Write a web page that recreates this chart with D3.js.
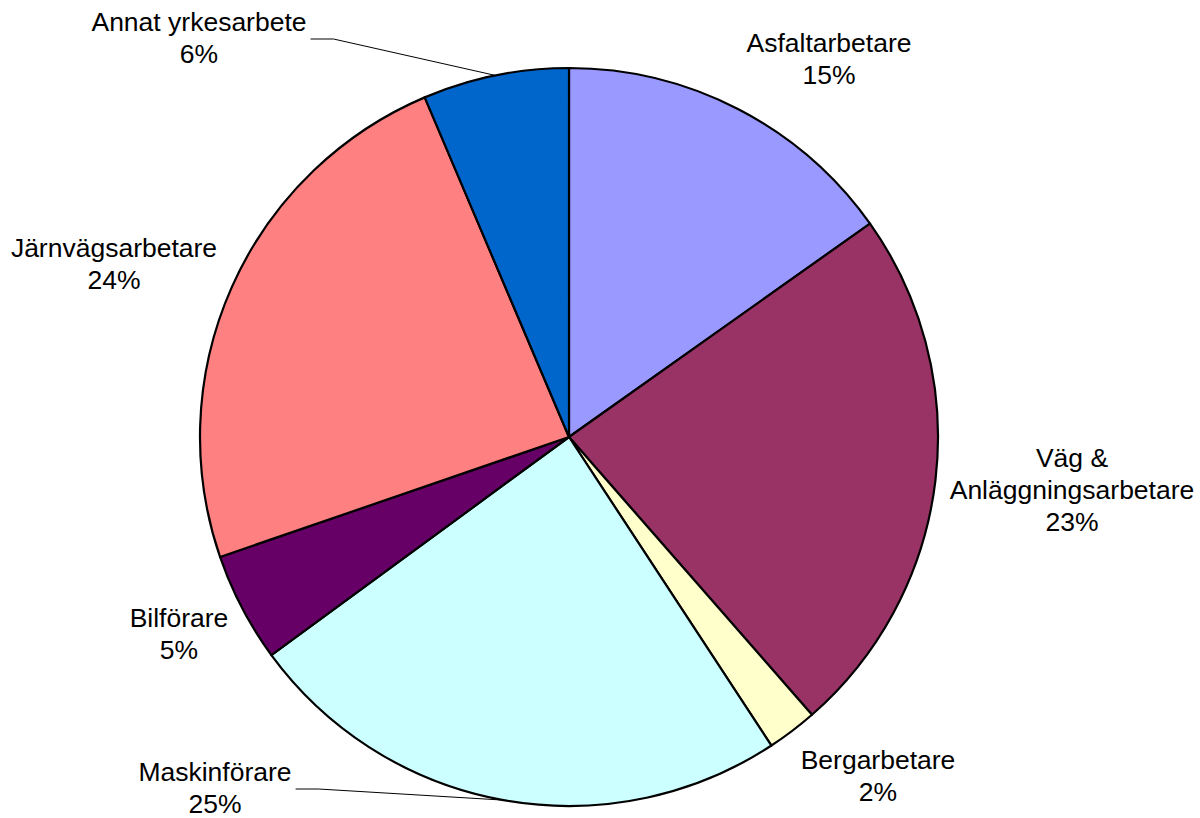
<!DOCTYPE html>
<html>
<head>
<meta charset="utf-8">
<script src="https://cdn.jsdelivr.net/npm/d3@7"></script>
<style>
  body { margin: 0; background: #fff; }
  svg text { font-family: "Liberation Sans", Arial, sans-serif; fill: #000; }
</style>
</head>
<body>
<div id="chart"></div>
<script>
// slices, clockwise from 12 o'clock
var categories = ["Asfaltarbetare", "Väg & Anläggningsarbetare", "Bergarbetare", "Maskinförare", "Bilförare", "Järnvägsarbetare", "Annat yrkesarbete"];
var shares = [15.2, 23.4, 2.2, 24.2, 4.8, 23.9, 6.4];
var pctLabels = ["15%", "23%", "2%", "25%", "5%", "24%", "6%"];
var colors = ["#9999FF", "#993366", "#FFFFCC", "#CCFFFF", "#660066", "#FF8080", "#0066CC"];

// label text lines and where each label block sits (first baseline)
var labelLines = [["Asfaltarbetare"], ["Väg &", "Anläggningsarbetare"], ["Bergarbetare"], ["Maskinförare"], ["Bilförare"], ["Järnvägsarbetare"], ["Annat yrkesarbete"]];
var labelPos = [[829, 52], [1072, 467], [878, 769], [215, 781], [179, 627], [114, 257], [199, 31]];
var hasLeader = [false, false, false, true, false, false, true];

var width = 1200, height = 818;
var cx = 569, cy = 437, radius = 369;
var lineH = 32;

var svg = d3.select("#chart").append("svg")
    .attr("width", width)
    .attr("height", height);

var pie = d3.pie().sort(null).value(function(d) { return d; });
var arcs = pie(shares);
var arc = d3.arc().innerRadius(0).outerRadius(radius);

var g = svg.append("g")
    .attr("transform", "translate(" + cx + "," + cy + ")");

g.selectAll("path.slice")
    .data(arcs)
  .enter().append("path")
    .attr("class", "slice")
    .attr("d", arc)
    .style("fill", function(d, i) { return colors[i]; })
    .style("stroke", "#000")
    .style("stroke-width", 2.2)
    .style("stroke-linejoin", "round");

// leader lines for the labels that sit away from their slice
arcs.forEach(function(d, i) {
    if (!hasLeader[i]) return;
    var mid = (d.startAngle + d.endAngle) / 2;
    var ex = cx + radius * Math.sin(mid), ey = cy - radius * Math.cos(mid);
    var lp = labelPos[i];
    var tw = 0;
    var probe = svg.append("text").style("font-size", "26.5px").text(labelLines[i][0]);
    tw = probe.node().getComputedTextLength();
    probe.remove();
    var sx = lp[0] + tw / 2 + 4, sy = lp[1] + 8;
    svg.append("path")
        .attr("d", d3.line()([[sx, sy], [sx + 23, sy], [ex, ey]]))
        .style("fill", "none")
        .style("stroke", "#000")
        .style("stroke-width", 1);
});

var labels = svg.selectAll("text.label")
    .data(arcs)
  .enter().append("text")
    .attr("class", "label")
    .attr("text-anchor", "middle")
    .style("font-size", "26.5px");

labels.each(function(d, i) {
    var t = d3.select(this);
    var lines = labelLines[i].concat([pctLabels[i]]);
    lines.forEach(function(s, k) {
        t.append("tspan")
            .attr("x", labelPos[i][0])
            .attr("y", labelPos[i][1] + k * lineH)
            .text(s);
    });
});
</script>
</body>
</html>
